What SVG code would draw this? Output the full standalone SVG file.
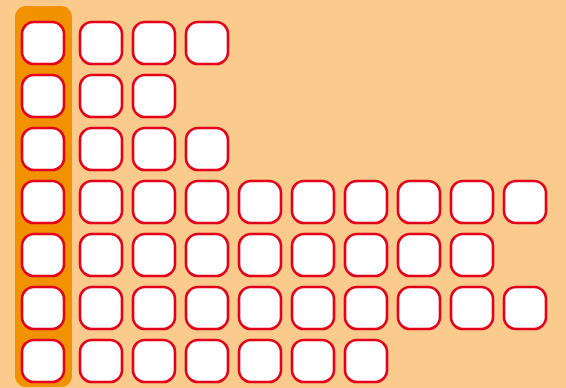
<svg xmlns="http://www.w3.org/2000/svg" width="566" height="388" viewBox="0 0 566 388">
<style>
.b{fill:#fff;stroke:#e2001a;stroke-width:2.6;}
</style>
<defs><rect id="c" width="42" height="42" rx="12" class="b"/></defs>
<rect width="566" height="388" fill="#facb8c"/>
<rect id="highlight" x="15" y="6" width="57" height="381" rx="11" fill="#f39200"/>
<g id="row1"><use href="#c" x="22" y="22"/><use href="#c" x="80" y="22"/><use href="#c" x="133" y="22"/><use href="#c" x="186" y="22"/></g>
<g id="row2"><use href="#c" x="22" y="75"/><use href="#c" x="80" y="75"/><use href="#c" x="133" y="75"/></g>
<g id="row3"><use href="#c" x="22" y="128"/><use href="#c" x="80" y="128"/><use href="#c" x="133" y="128"/><use href="#c" x="186" y="128"/></g>
<g id="row4"><use href="#c" x="22" y="181"/><use href="#c" x="80" y="181"/><use href="#c" x="133" y="181"/><use href="#c" x="186" y="181"/><use href="#c" x="239" y="181"/><use href="#c" x="292" y="181"/><use href="#c" x="345" y="181"/><use href="#c" x="398" y="181"/><use href="#c" x="451" y="181"/><use href="#c" x="504" y="181"/></g>
<g id="row5"><use href="#c" x="22" y="234"/><use href="#c" x="80" y="234"/><use href="#c" x="133" y="234"/><use href="#c" x="186" y="234"/><use href="#c" x="239" y="234"/><use href="#c" x="292" y="234"/><use href="#c" x="345" y="234"/><use href="#c" x="398" y="234"/><use href="#c" x="451" y="234"/></g>
<g id="row6"><use href="#c" x="22" y="287"/><use href="#c" x="80" y="287"/><use href="#c" x="133" y="287"/><use href="#c" x="186" y="287"/><use href="#c" x="239" y="287"/><use href="#c" x="292" y="287"/><use href="#c" x="345" y="287"/><use href="#c" x="398" y="287"/><use href="#c" x="451" y="287"/><use href="#c" x="504" y="287"/></g>
<g id="row7"><use href="#c" x="22" y="340"/><use href="#c" x="80" y="340"/><use href="#c" x="133" y="340"/><use href="#c" x="186" y="340"/><use href="#c" x="239" y="340"/><use href="#c" x="292" y="340"/><use href="#c" x="345" y="340"/></g>
<g id="connectors"/>
</svg>
